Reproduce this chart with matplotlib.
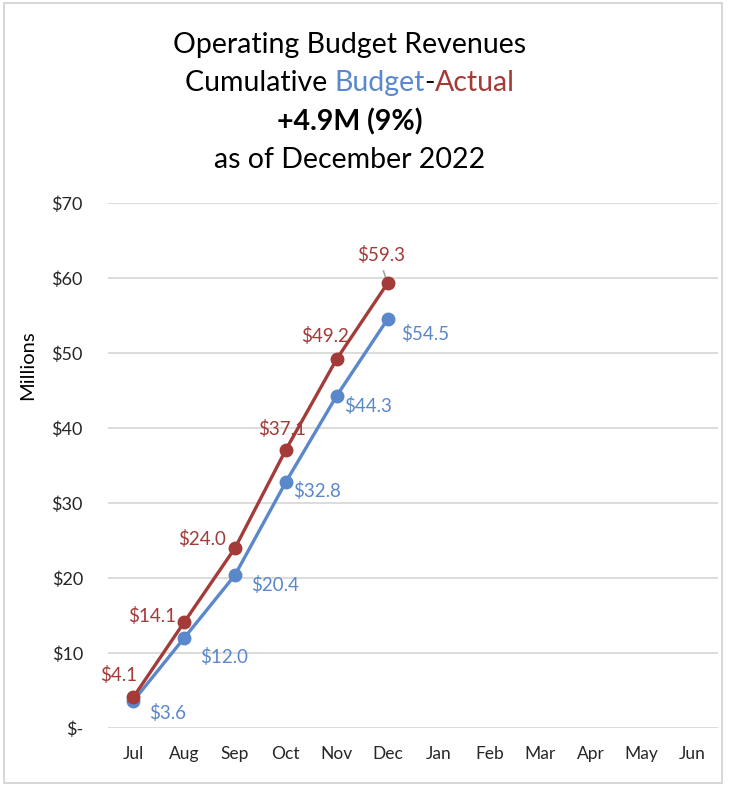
import matplotlib
matplotlib.use("Agg")
import matplotlib.pyplot as plt
from matplotlib.patches import Rectangle

plt.rcParams['font.family'] = ['Lato', 'DejaVu Sans']

months = ['Jul', 'Aug', 'Sep', 'Oct', 'Nov', 'Dec', 'Jan', 'Feb', 'Mar', 'Apr', 'May', 'Jun']
budget = [3.6, 12.0, 20.4, 32.8, 44.3, 54.5]
actual = [4.1, 14.1, 24.0, 37.1, 49.2, 59.3]
yticks = [0, 10, 20, 30, 40, 50, 60, 70]
ytick_labels = ['$-', '$10', '$20', '$30', '$40', '$50', '$60', '$70']

RED = '#A33B39'
BLUE = '#5A88CB'
GRID = '#D9D9D9'

# label offsets in pixels (dx, dy)
actual_off = [(-15, 22), (-32, 6), (-33, 9), (-4, 21), (-12, 23), (-6, 28)]
budget_off = [(34, -12), (40, -19), (40, -10), (31, -9), (31, -10), (38, -15)]

fig = plt.figure(figsize=(7.29, 7.89), dpi=100)
ax = fig.add_axes([0.148, 0.0773, 0.837, 0.6654])

x = list(range(len(months)))
ax.plot(x[:len(budget)], budget, color=BLUE, lw=2.4, marker='o', ms=9, zorder=3)
ax.plot(x[:len(actual)], actual, color=RED, lw=2.4, marker='o', ms=9, zorder=4)

for i, v in enumerate(actual):
    dx, dy = actual_off[i]
    ax.annotate(f'${v:.1f}', (i, v), xytext=(dx, dy), textcoords='offset pixels',
                ha='center', va='center', color=RED, fontsize=13.5)
for i, v in enumerate(budget):
    dx, dy = budget_off[i]
    ax.annotate(f'${v:.1f}', (i, v), xytext=(dx, dy), textcoords='offset pixels',
                ha='center', va='center', color=BLUE, fontsize=13.5)

# small leader line for the last actual label
ax.annotate('', (5, actual[5]), xytext=(-5, 15), textcoords='offset pixels',
            arrowprops=dict(arrowstyle='-', color='#A6A6A6', lw=1.2))

ax.set_xlim(-0.5, len(months) - 0.5)
ax.set_ylim(0, 70)
ax.set_xticks(x)
ax.set_xticklabels(months)
ax.set_yticks(yticks)
ax.set_yticklabels(ytick_labels)
ax.tick_params(length=0, labelsize=12.5, colors='#262626', pad=13)
ax.tick_params(axis='y', labelsize=13, pad=18)
for lbl in ax.get_yticklabels():
    lbl.set_horizontalalignment('right')
ax.grid(axis='y', color=GRID, lw=1.3)
ax.set_axisbelow(True)
for s in ax.spines.values():
    s.set_visible(False)

fig.text(0.038, 0.537, 'Millions', rotation=90, ha='center', va='center', fontsize=14.5, color='black')

# title
cx = 350 / 729
fs = 20.5
fig.text(cx, 1 - 45 / 789, 'Operating Budget Revenues', ha='center', va='center', fontsize=fs)
fig.text(cx, 1 - 122 / 789, '+4.9M (9%)', ha='center', va='center', fontsize=fs, fontweight='bold')
fig.text(cx, 1 - 160 / 789, 'as of December 2022', ha='center', va='center', fontsize=fs)

# multi-coloured second line
pieces = [('Cumulative ', 'black'), ('Budget', BLUE), ('-', 'black'), ('Actual', RED)]
renderer = fig.canvas.get_renderer()
texts = []
for s, c in pieces:
    t = fig.text(0, 1 - 83 / 789, s, ha='left', va='center', fontsize=fs, color=c)
    texts.append(t)
widths = [t.get_window_extent(renderer).width for t in texts]
total = sum(widths)
start = cx * fig.bbox.width - total / 2
for t, w in zip(texts, widths):
    t.set_x(start / fig.bbox.width)
    start += w

fig.patches.append(Rectangle((0.006, 0.008), 0.984, 0.988, transform=fig.transFigure,
                             fill=False, edgecolor='#D0D0D0', lw=1.2))

fig.savefig('out.png', dpi=100, facecolor='white')
